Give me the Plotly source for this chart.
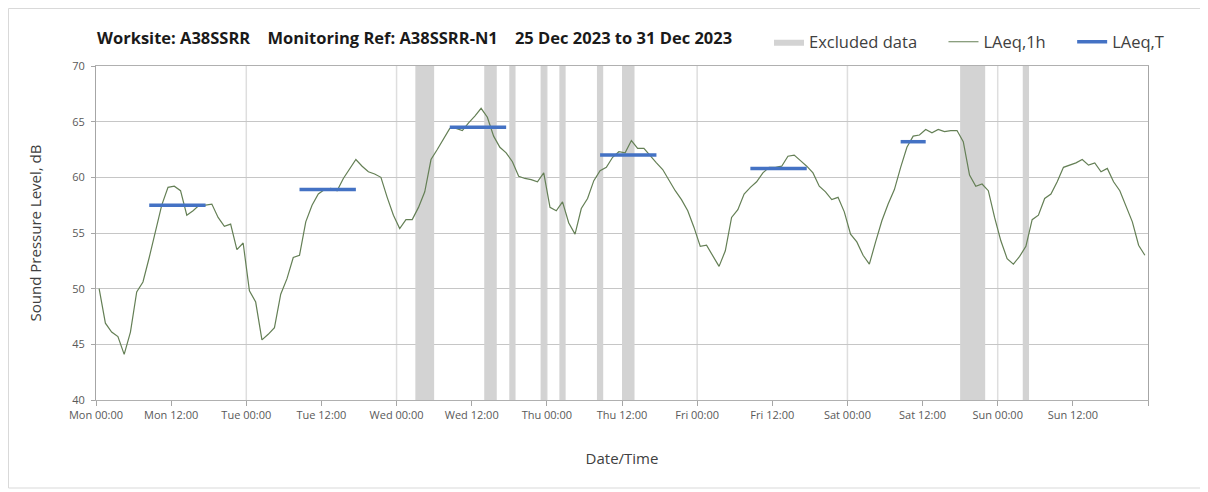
import pandas as pd
import plotly.graph_objects as go

# ---------------- data ----------------
laeq_1h = [
    # Mon
    50.0, 46.9, 46.1, 45.7, 44.1, 46.1, 49.7, 50.6, 52.8, 55.1, 57.5, 59.1,
    59.2, 58.8, 56.6, 57.0, 57.5, 57.5, 57.6, 56.4, 55.6, 55.8, 53.5, 54.1,
    # Tue
    49.8, 48.8, 45.4, 45.9, 46.5, 49.5, 50.9, 52.8, 53.0, 56.0, 57.5, 58.5,
    58.9, 59.0, 58.8, 59.9, 60.7, 61.6, 61.0, 60.5, 60.3, 60.0, 58.2, 56.6,
    # Wed
    55.4, 56.2, 56.2, 57.3, 58.7, 61.6, 62.5, 63.4, 64.4, 64.4, 64.2, 64.9,
    65.5, 66.2, 65.4, 63.7, 62.7, 62.2, 61.4, 60.1, 59.9, 59.8, 59.6, 60.4,
    # Thu
    57.3, 57.0, 57.8, 55.9, 54.9, 57.2, 58.1, 59.7, 60.6, 60.9, 61.8, 62.3,
    62.2, 63.3, 62.6, 62.6, 61.9, 61.3, 60.7, 59.7, 58.8, 58.0, 57.0, 55.5,
    # Fri
    53.8, 53.9, 53.0, 52.0, 53.4, 56.4, 57.1, 58.5, 59.1, 59.6, 60.4, 60.9,
    60.9, 61.0, 61.9, 62.0, 61.5, 61.0, 60.4, 59.2, 58.7, 58.0, 58.2, 56.9,
    # Sat
    54.9, 54.2, 53.0, 52.2, 54.2, 56.1, 57.6, 58.9, 60.9, 62.7, 63.7, 63.8,
    64.3, 64.0, 64.3, 64.1, 64.2, 64.2, 63.2, 60.2, 59.2, 59.4, 58.8, 56.4,
    # Sun
    54.3, 52.7, 52.2, 52.9, 53.8, 56.2, 56.6, 58.1, 58.5, 59.6, 60.9, 61.1,
    61.3, 61.6, 61.1, 61.3, 60.5, 60.8, 59.6, 58.8, 57.4, 56.0, 53.9, 53.0,
]
first_hour_mid = "2023-12-25 00:30"

laeqT_start = ["2023-12-25 08:30", "2023-12-26 08:30", "2023-12-27 08:30",
               "2023-12-28 08:30", "2023-12-29 08:30", "2023-12-30 08:30"]
laeqT_end = ["2023-12-25 17:30", "2023-12-26 17:30", "2023-12-27 17:30",
             "2023-12-28 17:30", "2023-12-29 17:30", "2023-12-30 12:30"]
laeqT_value = [57.5, 58.9, 64.5, 62.0, 60.8, 63.2]

excl_start = ["2023-12-27 03:00", "2023-12-27 14:00", "2023-12-27 18:00",
              "2023-12-27 23:00", "2023-12-28 02:00", "2023-12-28 08:00",
              "2023-12-28 12:00", "2023-12-30 18:00", "2023-12-31 04:00"]
excl_end = ["2023-12-27 06:00", "2023-12-27 16:00", "2023-12-27 19:00",
            "2023-12-28 00:00", "2023-12-28 03:00", "2023-12-28 09:00",
            "2023-12-28 14:00", "2023-12-30 22:00", "2023-12-31 05:00"]

tick_vals = ["2023-12-25 00:00", "2023-12-25 12:00", "2023-12-26 00:00",
             "2023-12-26 12:00", "2023-12-27 00:00", "2023-12-27 12:00",
             "2023-12-28 00:00", "2023-12-28 12:00", "2023-12-29 00:00",
             "2023-12-29 12:00", "2023-12-30 00:00", "2023-12-30 12:00",
             "2023-12-31 00:00", "2023-12-31 12:00", "2024-01-01 00:00"]
tick_text = ["Mon 00:00", "Mon 12:00", "Tue 00:00", "Tue 12:00", "Wed 00:00",
             "Wed 12:00", "Thu 00:00", "Thu 12:00", "Fri 00:00", "Fri 12:00",
             "Sat 00:00", "Sat 12:00", "Sun 00:00", "Sun 12:00", ""]
day_lines = ["2023-12-26 00:00", "2023-12-27 00:00", "2023-12-28 00:00",
             "2023-12-29 00:00", "2023-12-30 00:00", "2023-12-31 00:00"]

y_min, y_max = 40, 70
x_range = ["2023-12-25 00:00", "2024-01-01 00:00"]

GAP = "&nbsp;" * 4
title_text = ("Worksite: A38SSRR" + GAP + "Monitoring Ref: A38SSRR-N1" + GAP
              + "25 Dec 2023 to 31 Dec 2023")
PAD = "\u00a0" * 5
name_excl = "Excluded data" + PAD
name_1h = "LAeq,1h" + PAD
name_T = "LAeq,T"

# ---------------- figure ----------------
FONT = "'Open Sans', sans-serif"
times = pd.date_range(first_hour_mid, periods=len(laeq_1h), freq="h")

# page has an 8px body margin: work in figure coordinates = page - 8
OFF = 8
W, H = 1208 - OFF, 492 - OFF
L, R, T, B = 96 - OFF, 1148 - OFF, 66 - OFF, 400 - OFF
pw, ph = R - L, B - T

fig = go.Figure()

bx, by = [], []
for s, e in zip(excl_start, excl_end):
    bx += [s, s, e, e, s, None]
    by += [y_min, y_max, y_max, y_min, y_min, None]
fig.add_trace(go.Scatter(
    x=bx, y=by, mode="lines", fill="toself", fillcolor="#d3d3d3",
    line=dict(width=0, color="#d3d3d3"), name=name_excl,
    hoverinfo="skip"))

fig.add_trace(go.Scatter(
    x=times, y=laeq_1h, mode="lines", name=name_1h,
    line=dict(color="#647f55", width=1.2)))

tx, ty = [], []
for s, e, v in zip(laeqT_start, laeqT_end, laeqT_value):
    tx += [s, e, None]
    ty += [v, v, None]
fig.add_trace(go.Scatter(
    x=tx, y=ty, mode="lines", name=name_T,
    line=dict(color="#4472c4", width=3.5)))

shapes = []
for d in day_lines:
    shapes.append(dict(type="line", xref="x", yref="y", x0=d, x1=d,
                       y0=y_min, y1=y_max, layer="below",
                       line=dict(color="#dedede", width=1.5)))
# outer chart frame
shapes.append(dict(type="rect", xref="paper", yref="paper",
                   x0=(0.5 - L) / pw, x1=(1196 - L) / pw,
                   y0=(B - 480) / ph, y1=(B - 0.5) / ph,
                   line=dict(color="#d9d9d9", width=1)))

fig.update_layout(
    width=W, height=H,
    margin=dict(l=L, r=W - R, t=T, b=H - B),
    paper_bgcolor="white", plot_bgcolor="white",
    font=dict(family=FONT, color="#404040"),
    shapes=shapes,
    showlegend=True,
    legend=dict(orientation="h", x=(769 - OFF - L) / pw, xanchor="left",
                y=(B - (42 - OFF)) / ph, yanchor="middle",
                font=dict(size=16.5, color="#404040", family=FONT),
                bgcolor="rgba(0,0,0,0)", itemwidth=30,
                tracegroupgap=0),
    annotations=[dict(text="<b>" + title_text + "</b>", xref="paper",
                      yref="paper", x=(95 - OFF - L) / pw, xanchor="left",
                      y=(B - (37 - OFF)) / ph, yanchor="middle",
                      showarrow=False,
                      font=dict(size=16.5, color="#1a1a1a", family=FONT))],
)

fig.update_xaxes(
    type="date", range=x_range,
    tickmode="array", tickvals=tick_vals, ticktext=tick_text,
    ticks="outside", ticklen=5, tickcolor="#a6a6a6",
    tickfont=dict(size=11, color="#595959"),
    showgrid=False, zeroline=False,
    showline=True, linecolor="#b0b0b0", linewidth=1, mirror=True,
    title=dict(text="Date/Time", font=dict(size=15, color="#404040"),
               standoff=32),
)
fig.update_yaxes(
    range=[y_min, y_max], dtick=5, tick0=40,
    ticks="outside", ticklen=4, tickcolor="#a6a6a6",
    ticklabelstandoff=4,
    tickfont=dict(size=11, color="#595959"),
    showgrid=True, gridcolor="#c6c6c6", gridwidth=1, zeroline=False,
    showline=True, linecolor="#a6a6a6", linewidth=1, mirror=True,
    title=dict(text="Sound Pressure Level, dB",
               font=dict(size=15, color="#404040"), standoff=26),
)

fig.write_html("out.html")
